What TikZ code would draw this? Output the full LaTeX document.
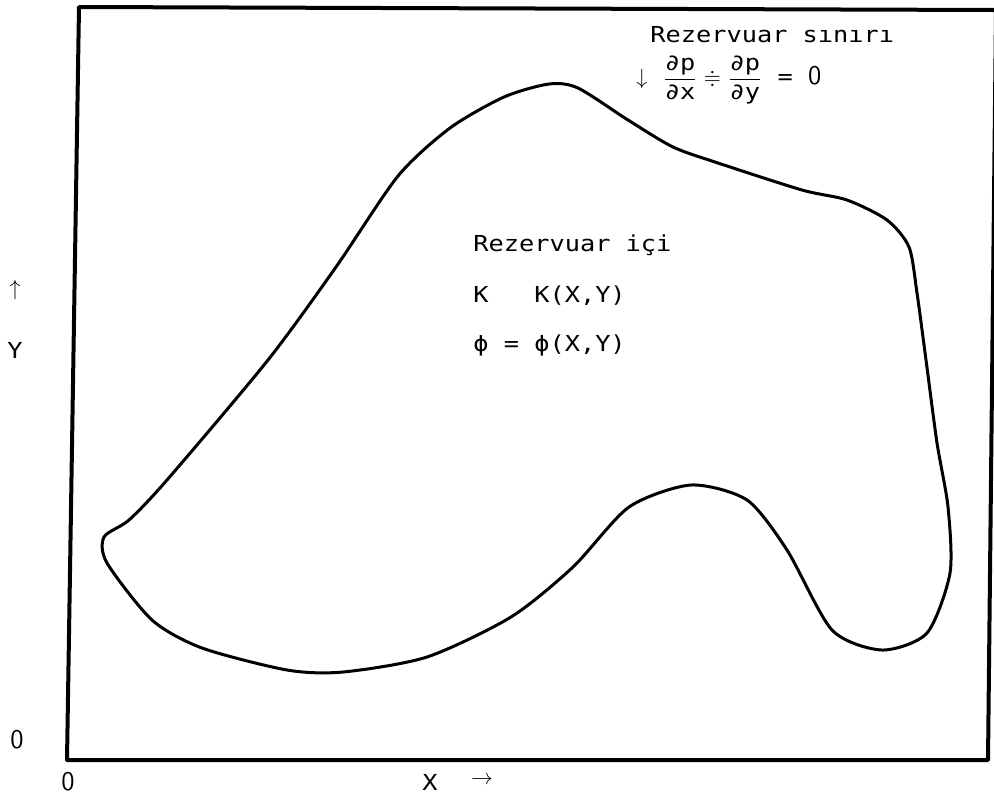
\documentclass[tikz,border=0pt]{standalone}
\usepackage{amsmath, amssymb}
\usepackage{fontspec}
\setmonofont[FakeStretch=1.15]{DejaVu Sans Mono}
\usepackage{tikz}
\newcommand{\zerodig}{{\fontsize{13.5}{15}\selectfont\sffamily 0}}

\begin{document}
\begin{tikzpicture}[x=0.5pt, y=-0.5pt,
        lbl/.style={font=\fontsize{11}{13}\selectfont\ttfamily, inner sep=0pt, anchor=west},
        axlbl/.style={lbl, anchor=center}]
        \useasboundingbox (0,0) rectangle (994,805);

        % Draw the frame
        \draw[line width=2pt, line join=round] (79,7) -- (996,10) -- (988,760) -- (67,760) -- cycle;

        % Reservoir boundary
        \draw[line width=1.5pt] plot[smooth cycle, tension=0.45] coordinates {
            (104,537) (129,520) (167,480) (268,360) (336,267) (398,176)
            (450,128) (504,97) (549,84) (578,88) (628,120) (673,147) (718,163)
            (802,190) (847,200) (887,220) (909,247) (917,293) (926,360) (937,443)
            (948,507) (950,573) (927,633) (882,650) (832,630) (787,550) (747,500)
            (691,485) (629,507) (573,567) (511,617) (427,657) (343,672) (287,670)
            (202,648) (152,620) (107,563)};

        % Boundary condition
        \node[lbl] (rsin) at (650,35) {Rezervuar sınırı};
        \node[lbl] (bcond) at (636,80) {$\downarrow$\ $\dfrac{\mbox{\ttfamily ∂p}}{\mbox{\ttfamily ∂x}}\doteqdot\dfrac{\mbox{\ttfamily ∂p}}{\mbox{\ttfamily ∂y}}$ = \zerodig};

        % Inside the reservoir
        \node[lbl] (rici) at (473,245) {Rezervuar içi};
        \node[lbl] (kxy) at (473,296) {K\ \ \ K(X,Y)};
        \node[lbl] (phixy) at (473,345) {ϕ = ϕ(X,Y)};

        % Axis labels
        \node[axlbl] (yarr) at (15,290) {$\uparrow$};
        \node[axlbl] (ylab) at (15,350) {Y};
        \node[axlbl] (yzero) at (17,740) {\zerodig};
        \node[axlbl] (xzero) at (68,782) {\zerodig};
        \node[axlbl] (xlab) at (430,782) {X};
        \node[axlbl] (xarr) at (482,780) {$\rightarrow$};
    \end{tikzpicture}
\end{document}
